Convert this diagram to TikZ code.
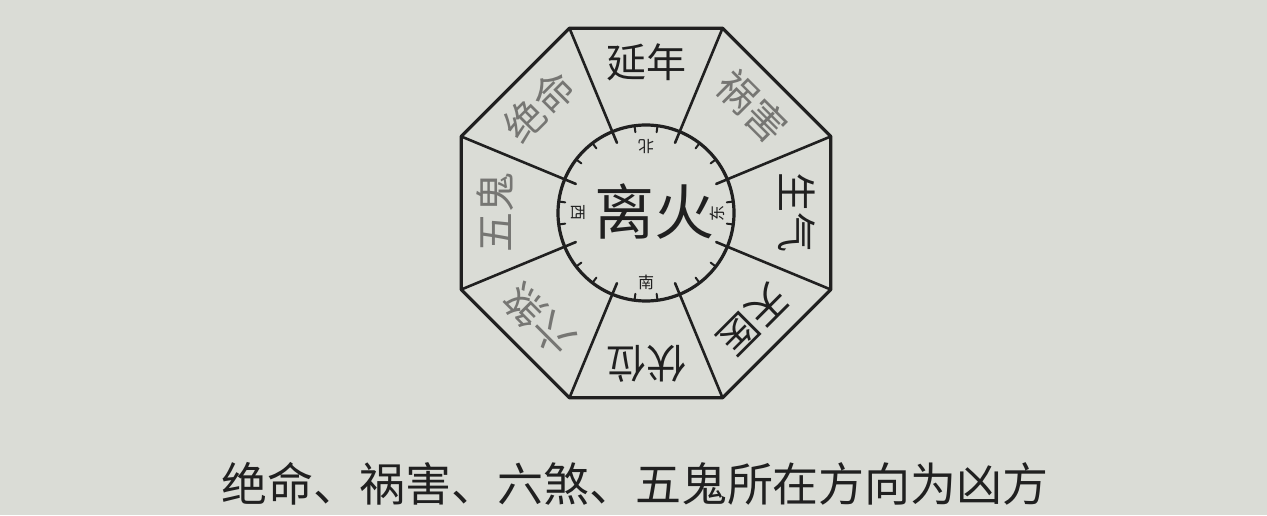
\documentclass[tikz,border=0pt]{standalone}
\usepackage{fontspec}
\newfontfamily\cjk{Noto Sans CJK SC}
\definecolor{paper}{RGB}{218,220,214}
\definecolor{ink}{RGB}{32,32,32}
\definecolor{inkgrey}{RGB}{118,118,115}
\begin{document}
\begin{tikzpicture}[x=1pt,y=1pt,line cap=round,line join=round,
  sectlabel/.style={font=\cjk\fontsize{40}{40}\selectfont,inner sep=0pt},
  dirlabel/.style={font=\cjk\fontsize{16}{16}\selectfont,inner sep=0pt,text=ink},
  frame/.style={draw=ink,line width=3.2pt},
  divider/.style={draw=ink,line width=2.6pt},
  tick/.style={draw=ink,line width=2pt}]
\fill[paper] (0,0) rectangle (1267,515);
\useasboundingbox (0,0) rectangle (1267,515);
\begin{scope}[shift={(646,302)}]
  \foreach \i in {0,...,7}{
    \coordinate (v\i) at ({22.5+45*\i}:200);
    \coordinate (e\i) at ({22.5+45*\i}:76);
  }
  \draw[frame] (v0) -- (v1) -- (v2) -- (v3) -- (v4) -- (v5) -- (v6) -- (v7) -- cycle;
  \node[circle,frame,minimum size=176pt,inner sep=0pt] (ring) at (0,0) {};
  \foreach \i in {0,...,7}{
    \draw[divider] (v\i) -- (e\i);
  }
  \foreach \k in {1,2,4,5,7,8,10,11,13,14,16,17,19,20,22,23}{
    \draw[tick] ({22.5+15*\k}:88) -- ({22.5+15*\k}:81.5);
  }
  \foreach \a/\t/\c [count=\n] in {90/延年/ink,45/祸害/inkgrey,0/生气/ink,-45/天医/ink,-90/伏位/ink,-135/六煞/inkgrey,180/五鬼/inkgrey,135/绝命/inkgrey}{
    \node[sectlabel,text=\c,rotate=\a-90] (s\n) at (\a:151) {\t};
  }
  \node[font=\cjk\fontsize{60}{60}\selectfont,inner sep=0pt,text=ink] (centre) at (8,1) {离火};
  \node[dirlabel,rotate=180] (north) at (90:66) {北};
  \node[dirlabel,rotate=90] (east) at (0:71) {东};
  \node[dirlabel] (south) at (270:69) {南};
  \node[dirlabel,rotate=-90] (west) at (180:68) {西};
\end{scope}
\node[font=\cjk\fontsize{46}{46}\selectfont,inner sep=0pt,text=ink] (caption) at (635,31) {绝命、祸害、六煞、五鬼所在方向为凶方};
\end{tikzpicture}
\end{document}
